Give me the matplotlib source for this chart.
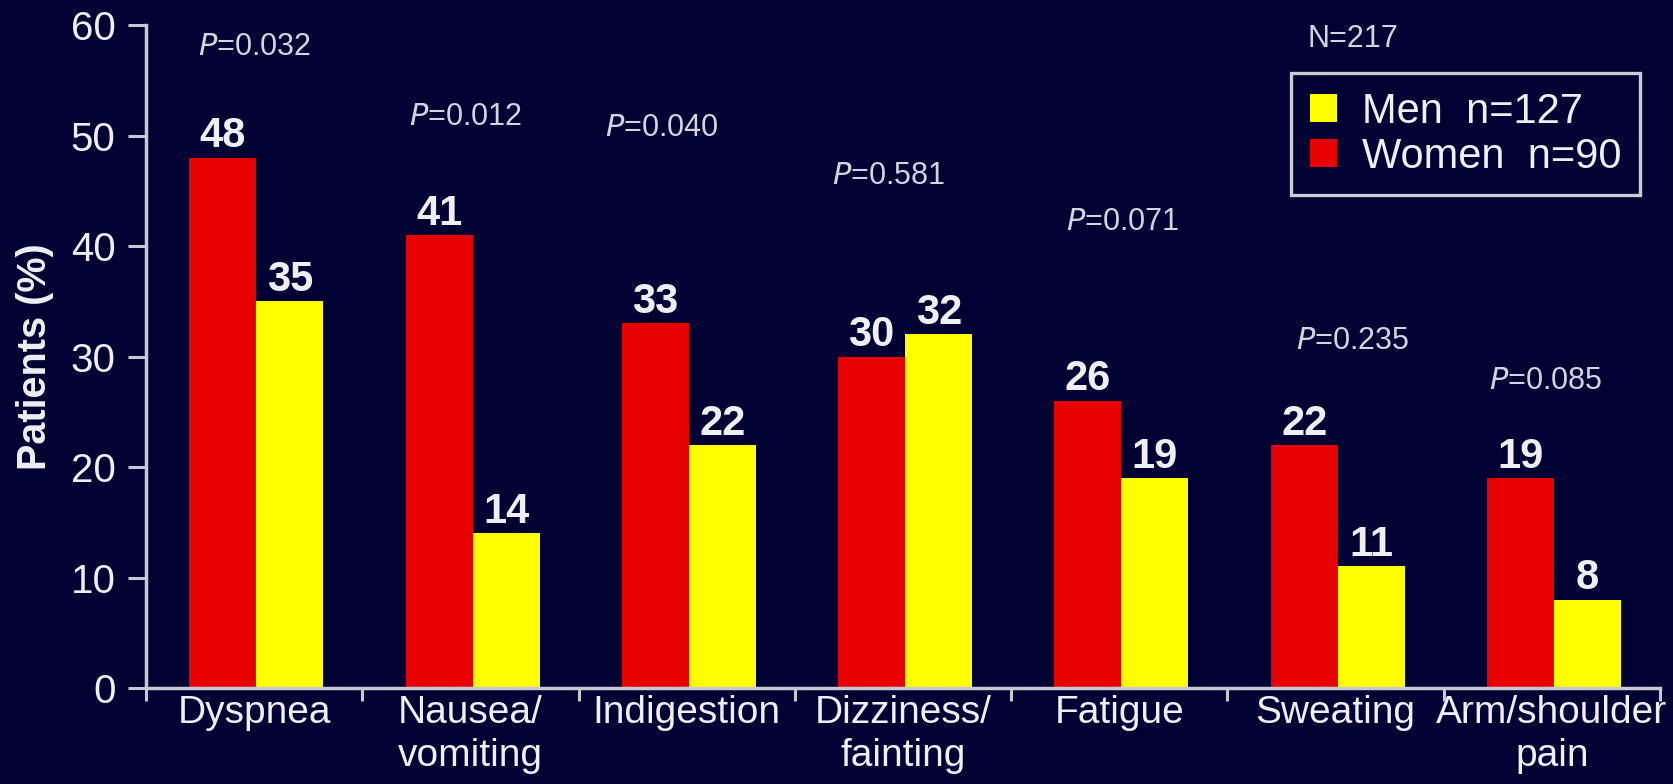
import matplotlib
matplotlib.use("Agg")
import matplotlib.pyplot as plt
from matplotlib.patches import Patch
import numpy as np

# Symptom categories and percentages of patients reporting them
categories = ["Dyspnea", "Nausea/\nvomiting", "Indigestion", "Dizziness/\nfainting",
              "Fatigue", "Sweating", "Arm/shoulder\npain"]
women = [48, 41, 33, 30, 26, 22, 19]
men = [35, 14, 22, 32, 19, 11, 8]
p_labels = ["0.032", "0.012", "0.040", "0.581", "0.071", "0.235", "0.085"]
p_x = [0.0, 0.975, 1.883, 2.935, 4.015, 5.08, 5.97]
p_y = [58.0, 51.7, 50.7, 46.3, 42.2, 31.4, 27.8]
y_ticks = [0, 10, 20, 30, 40, 50, 60]

BG = "#000032"
RED = "#E60000"
YELLOW = "#FFFF00"
TXT = "#EEEEF4"
PTXT = "#D4D4E0"
AXC = "#C8C8D4"

plt.rcParams["font.family"] = ["Liberation Sans", "DejaVu Sans"]

fig = plt.figure(figsize=(16.73, 7.84), dpi=100, facecolor=BG)
ax = fig.add_axes([0.0873, 0.1224, 0.9922 - 0.0873, 0.968 - 0.1224])
ax.set_facecolor(BG)

x = np.arange(len(categories))
w = 0.31
off = 0.01
bars_w = ax.bar(x - w / 2 + off, women, width=w, color=RED, linewidth=0, zorder=2)
bars_m = ax.bar(x + w / 2 + off, men, width=w, color=YELLOW, linewidth=0, zorder=2)

for bars, vals in ((bars_w, women), (bars_m, men)):
    for b, v in zip(bars, vals):
        ax.annotate(f"{v}", (b.get_x() + b.get_width() / 2, v), xytext=(0, 1),
                    textcoords="offset points", ha="center", va="bottom",
                    fontsize=30, fontweight="bold", color=TXT)

for px, py, pl in zip(p_x, p_y, p_labels):
    ax.text(px, py, r"$\it{P}$" + "=" + pl, ha="center", va="center",
            fontsize=22, color=PTXT)

ax.set_xlim(-0.5, len(categories) - 0.5)
ax.set_ylim(0, 60)
ax.set_yticks(y_ticks)
ax.set_yticklabels([str(t) for t in y_ticks])

ax.set_xticks(x)
ax.set_xticklabels(categories, fontsize=28, color=TXT, linespacing=1.25)
ax.set_xticks(np.arange(len(categories) + 1) - 0.5, minor=True)
ax.tick_params(axis="x", which="major", length=0, pad=5)
ax.tick_params(axis="x", which="minor", length=9, width=2.2, color=AXC, direction="out")
ax.tick_params(axis="y", length=13, width=2.2, color=AXC, labelsize=29,
               labelcolor=TXT, pad=9)

for s in ("top", "right"):
    ax.spines[s].set_visible(False)
for s in ("left", "bottom"):
    ax.spines[s].set_color(AXC)
    ax.spines[s].set_linewidth(2.5)

ax.set_ylabel("Patients (%)", fontsize=28.5, fontweight="bold", color=TXT, va="center")
ax.yaxis.set_label_coords(-0.0733, 0.5)

handles = [Patch(facecolor=YELLOW, edgecolor="none"), Patch(facecolor=RED, edgecolor="none")]
leg = ax.legend(handles, ["Men  n=127", "Women  n=90"], loc="upper right",
                bbox_to_anchor=(0.987, 0.928), fontsize=30, frameon=True,
                fancybox=False, handlelength=0.65, handleheight=0.65,
                handletextpad=0.6, labelspacing=0.12, borderpad=0.45,
                borderaxespad=0.0)
leg.get_frame().set_facecolor(BG)
leg.get_frame().set_edgecolor("white")
leg.get_frame().set_linewidth(2.4)
for t in leg.get_texts():
    t.set_color(TXT)

ax.text(0.797, 0.979, "N=217", transform=ax.transAxes, ha="center", va="center",
        fontsize=22, color=PTXT, clip_on=False)

fig.savefig("out.png", dpi=100, facecolor=BG)
